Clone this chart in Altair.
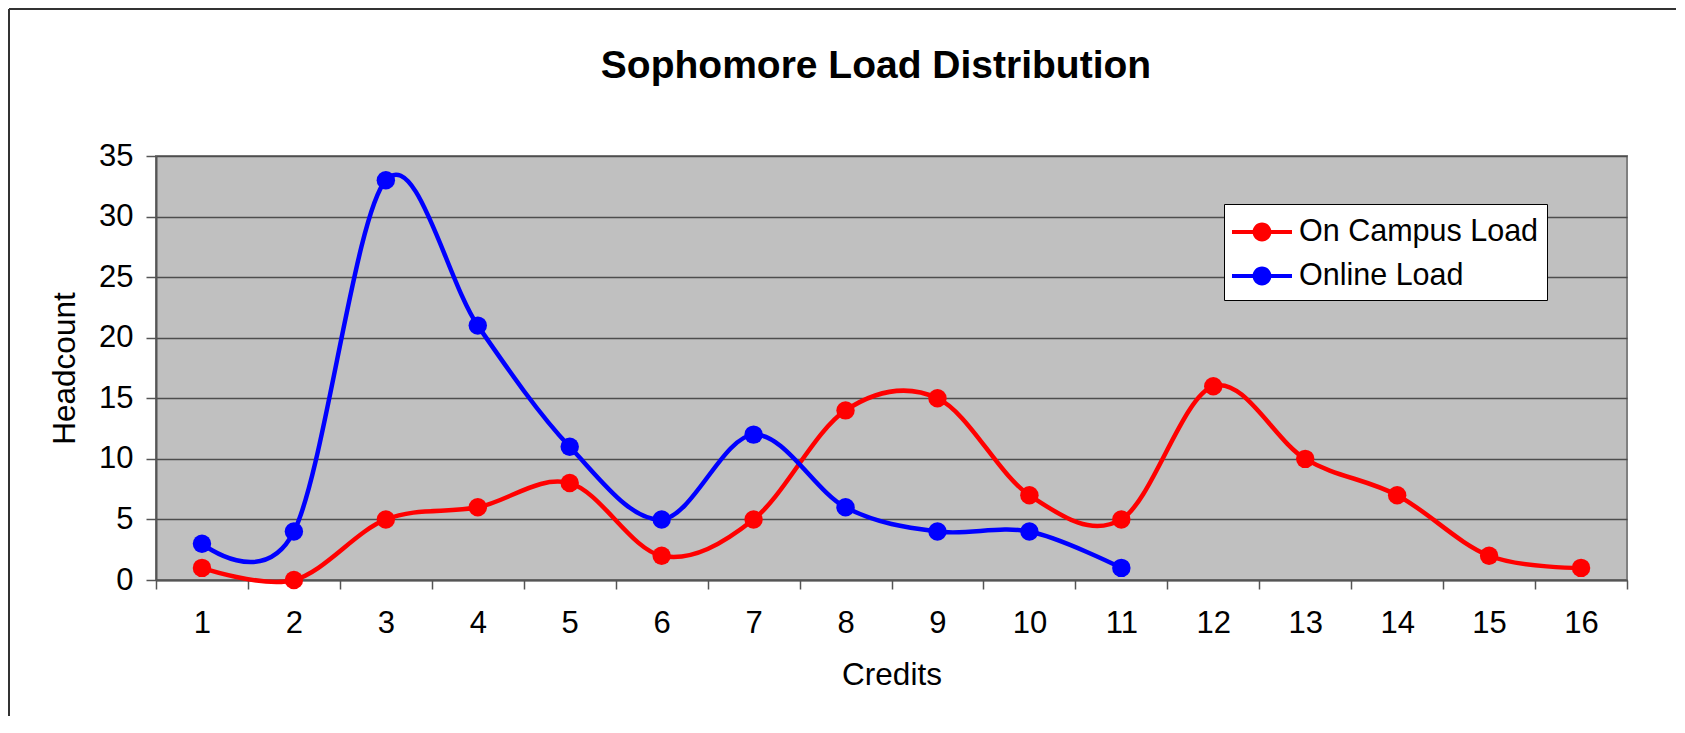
import altair as alt
import pandas as pd

# ---- data ----
credits = list(range(1, 17))
on_campus = [1, 0, 5, 6, 8, 2, 5, 14, 15, 7, 5, 16, 10, 7, 2, 1]
online = [3, 4, 33, 21, 11, 5, 12, 6, 4, 4, 1]
series_names = ["On Campus Load", "Online Load"]
series_colors = ["#FF0000", "#0000FF"]
title_text = "Sophomore Load Distribution"
x_title = "Credits"
y_title = "Headcount"
y_ticks = [0, 5, 10, 15, 20, 25, 30, 35]

rows = []
for c, v in zip(credits, on_campus):
    rows.append({"Credits": c, "Headcount": v, "Series": series_names[0]})
for c, v in zip(credits, online):
    rows.append({"Credits": c, "Headcount": v, "Series": series_names[1]})
df = pd.DataFrame(rows)

FONT = "Liberation Sans"
W, H = 1471, 424

# legend symbol: a short line with a dot in the middle (wider than its nominal box)
SYMBOL = ("M-1.5,-0.1 L1.5,-0.1 L1.5,0.1 L-1.5,0.1 Z "
          "M0.47,0 A0.47,0.47 0 1 1 -0.47,0 A0.47,0.47 0 1 1 0.47,0 Z")

x_enc = alt.X("Credits:O",
              scale=alt.Scale(type="band", paddingInner=0, paddingOuter=0),
              axis=alt.Axis(title=x_title, labelAngle=0, tickBand="extent",
                            tickSize=9, labelPadding=19, titlePadding=21,
                            grid=False))
y_enc = alt.Y("Headcount:Q",
              scale=alt.Scale(domain=[0, 35], nice=False),
              axis=alt.Axis(title=y_title, values=y_ticks, tickSize=10,
                            labelPadding=13, titlePadding=17, grid=True))
color_scale = alt.Scale(domain=series_names, range=series_colors)

base = alt.Chart(df)

lines = base.mark_line(interpolate="cardinal", strokeWidth=4.5).encode(
    x=x_enc, y=y_enc,
    color=alt.Color("Series:N", scale=color_scale, legend=None),
    detail="Series:N",
)

points = base.mark_point(filled=True, size=340, opacity=1).encode(
    x=x_enc, y=y_enc,
    color=alt.Color("Series:N", scale=color_scale, sort=series_names,
                    legend=alt.Legend(orient="none", legendX=1068, legendY=48,
                                      title=None, fillColor="white",
                                      strokeColor="black", padding=8,
                                      symbolType=SYMBOL, symbolSize=1600,
                                      symbolOffset=10,
                                      symbolStrokeWidth=0, symbolOpacity=1,
                                      labelFontSize=30.5, labelFont=FONT,
                                      labelColor="black", labelOffset=17,
                                      labelLimit=500, rowPadding=8)),
)

title_df = pd.DataFrame({"t": [title_text]})
title = alt.Chart(title_df).mark_text(
    font=FONT, fontSize=39, fontWeight="bold", color="black",
    align="center", baseline="middle"
).encode(text="t:N", x=alt.value(720), y=alt.value(-90))

frame_df = pd.DataFrame({"k": [0]})
top_rule = alt.Chart(frame_df).mark_rule(color="#333333", strokeWidth=2).encode(
    x=alt.value(-147), x2=alt.value(1520), y=alt.value(-147))
left_rule = alt.Chart(frame_df).mark_rule(color="#333333", strokeWidth=2).encode(
    x=alt.value(-147), y=alt.value(-147), y2=alt.value(560))

chart = alt.layer(top_rule, left_rule, lines, points, title).resolve_legend(
    color="independent"
).properties(
    width=W, height=H, padding=0, background="white",
).configure_view(
    fill="#C0C0C0", stroke="#808080", strokeWidth=2
).configure_axis(
    labelFont=FONT, labelFontSize=31, labelColor="black",
    titleFont=FONT, titleFontSize=31.5, titleColor="black", titleFontWeight="normal",
    domainColor="#555555", domainWidth=2, tickColor="#555555", tickWidth=1.5,
    gridColor="#4d4d4d", gridWidth=1.3, gridOpacity=1,
)

chart.save("out.html", embed_options={"renderer": "svg", "actions": False})
